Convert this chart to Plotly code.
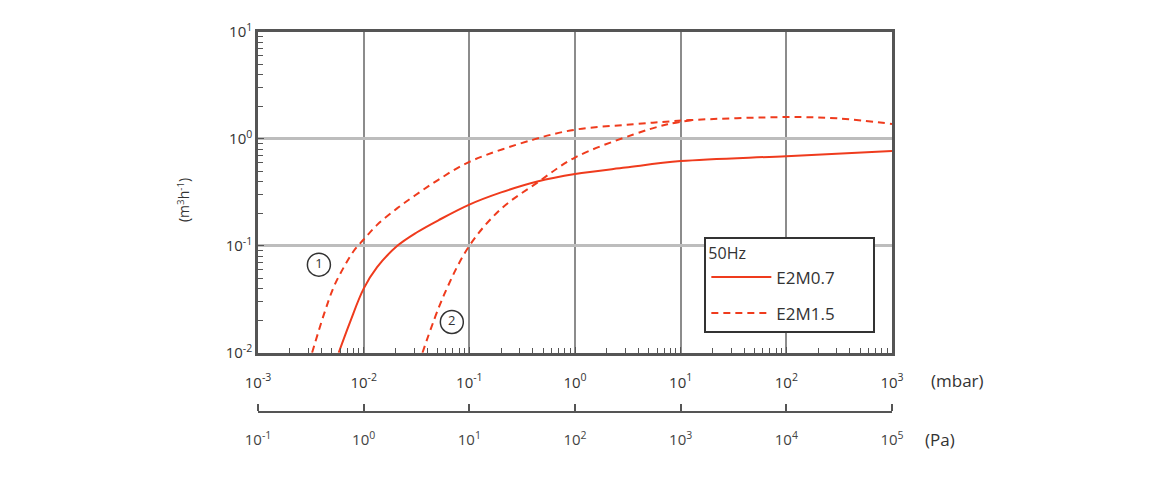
import plotly.graph_objects as go

# pumping speed curves, pressure in mbar, speed in m3/h
p_e2m07 = [0.0058, 0.00748, 0.01, 0.0134, 0.0207, 0.032, 0.0513, 0.1, 0.2, 0.44, 1, 3, 10, 100, 1000]
s_e2m07 = [0.01, 0.0197, 0.0398, 0.0632, 0.0995, 0.134, 0.174, 0.243, 0.316, 0.40, 0.47, 0.54, 0.62, 0.69, 0.77]

p_e2m15 = [0.00325, 0.00419, 0.0052, 0.00647, 0.00805, 0.01, 0.0134, 0.0207, 0.0308, 0.05, 0.1,
           0.41, 1, 3.57, 12.3, 100, 300, 1000]
s_e2m15 = [0.01, 0.0226, 0.0411, 0.0628, 0.0895, 0.1146, 0.157, 0.224, 0.297, 0.41, 0.61,
           0.99, 1.22, 1.37, 1.5, 1.60, 1.56, 1.38]

# curve 2 (gas ballast)
p_e2m15_gb = [0.036, 0.0577, 0.1, 0.198, 0.44, 1, 3.57, 7.5, 13]
s_e2m15_gb = [0.01, 0.0349, 0.1, 0.22, 0.39, 0.67, 1.10, 1.37, 1.5]

mbar_ticks = [1e-3, 1e-2, 1e-1, 1, 10, 100, 1000]
mbar_text = ["10<sup>-3</sup>", "10<sup>-2</sup>", "10<sup>-1</sup>", "10<sup>0</sup>",
             "10<sup>1</sup>", "10<sup>2</sup>", "10<sup>3</sup>"]
pa_ticks = [1e-1, 1, 10, 100, 1e3, 1e4, 1e5]
pa_text = ["10<sup>-1</sup>", "10<sup>0</sup>", "10<sup>1</sup>", "10<sup>2</sup>",
           "10<sup>3</sup>", "10<sup>4</sup>", "10<sup>5</sup>"]
y_ticks = [0.01, 0.1, 1, 10]
y_text = ["10<sup>-2</sup>", "10<sup>-1</sup>", "10<sup>0</sup>", "10<sup>1</sup>"]

marker_labels = ["1", "2"]
marker_x = [0.00377, 0.0683]
marker_y = [0.0667, 0.0194]

red = "#ef3b1d"
axcol = "#555555"
txt = "#333333"
FONT = "Open Sans"

minor_x = [m * d for d in [1e-3, 1e-2, 1e-1, 1, 10, 100] for m in range(2, 10)]
minor_y = [m * d for d in [1e-2, 1e-1, 1] for m in range(2, 10)]

fig = go.Figure()

fig.add_trace(go.Scatter(x=p_e2m07, y=s_e2m07, mode="lines", name="E2M0.7",
                         line=dict(color=red, width=2, shape="spline", smoothing=1.0),
                         legendgroup="a"))
fig.add_trace(go.Scatter(x=p_e2m15, y=s_e2m15, mode="lines", name="E2M1.5",
                         line=dict(color=red, width=2, dash="7px,5px", shape="spline", smoothing=1.0),
                         legendgroup="b"))
fig.add_trace(go.Scatter(x=p_e2m15_gb, y=s_e2m15_gb, mode="lines", name="E2M1.5",
                         line=dict(color=red, width=2, dash="7px,5px", shape="spline", smoothing=1.0),
                         legendgroup="b", showlegend=False))
fig.add_trace(go.Scatter(x=marker_x, y=marker_y, mode="markers+text", text=marker_labels,
                         textposition="middle center",
                         textfont=dict(family=FONT, size=13, color=txt),
                         marker=dict(symbol="circle-open", size=23,
                                     line=dict(color=txt, width=1.5), color=txt),
                         showlegend=False, hoverinfo="skip"))
# empty trace so the Pa axis gets drawn
fig.add_trace(go.Scatter(x=pa_ticks, y=[None] * len(pa_ticks), xaxis="x2", yaxis="y2",
                         mode="lines", showlegend=False, hoverinfo="skip"))

fig.update_layout(
    width=1152, height=472,
    margin=dict(l=250, r=268, t=18, b=20),
    paper_bgcolor="white", plot_bgcolor="white",
    font=dict(family=FONT, size=15, color=txt),
    showlegend=True,
    legend=dict(x=0.704, y=0.5207, xanchor="left", yanchor="top",
                bgcolor="white", bordercolor="#333333", borderwidth=2,
                title=dict(text="50Hz" + "\u00a0" * 30, font=dict(size=16)),
                font=dict(size=17), tracegroupgap=11, itemwidth=60),
    xaxis=dict(type="log", range=[-3, 3], tickvals=mbar_ticks, ticktext=mbar_text,
               ticks="inside", ticklen=6, tickcolor=axcol,
               showgrid=True, gridcolor="#8c8c8c", gridwidth=1.5,
               showline=True, linecolor=axcol, linewidth=2.5, mirror=True,
               ticklabelstandoff=14,
               minor=dict(tickvals=minor_x, ticks="inside", ticklen=5, tickcolor=axcol,
                          showgrid=False),
               zeroline=False),
    yaxis=dict(type="log", range=[-2, 1], domain=[0.2488, 1],
               tickvals=y_ticks, ticktext=y_text,
               ticks="inside", ticklen=6, tickcolor=axcol,
               showgrid=True, gridcolor="#bdbdbd", gridwidth=2.5,
               showline=True, linecolor=axcol, linewidth=2.5, mirror=True,
               minor=dict(tickvals=minor_y, ticks="inside", ticklen=5, tickcolor=axcol,
                          showgrid=False),
               zeroline=False),
    # pressure axis in Pa: top edge of a thin subplot, ticks up, labels below
    xaxis2=dict(type="log", range=[-1, 5], anchor="y2", domain=[0, 1], side="top",
                tickvals=pa_ticks, ticktext=pa_text,
                ticks="outside", ticklen=7, tickcolor=axcol, tickwidth=1.5,
                ticklabelposition="inside", ticklabeloverflow="allow",
                showgrid=False, showline=True, linecolor=axcol, linewidth=1.5,
                ticklabelstandoff=22, zeroline=False),
    yaxis2=dict(domain=[0, 0.1083], anchor="x2", range=[0, 1],
                showticklabels=False, showline=False, showgrid=False,
                ticks="", zeroline=False),
)

fig.add_annotation(text="(m<sup>3</sup>h<sup>-1</sup>)", textangle=-90,
                   xref="paper", yref="paper", x=-0.117, y=0.606,
                   xanchor="center", yanchor="middle",
                   showarrow=False, font=dict(size=14))
fig.add_annotation(text="(mbar)", xref="paper", yref="paper", x=1.104, y=0.1843,
                   xanchor="center", yanchor="middle",
                   showarrow=False, font=dict(size=17))
fig.add_annotation(text="(Pa)", xref="paper", yref="paper", x=1.0756, y=0.0461,
                   xanchor="center", yanchor="middle",
                   showarrow=False, font=dict(size=17))

fig.write_html("out.html")
